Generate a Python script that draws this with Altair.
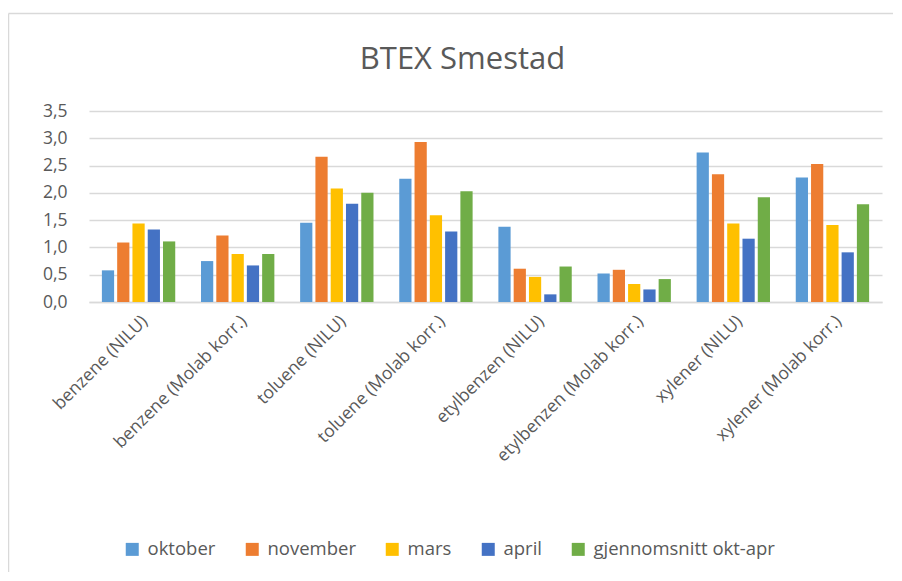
import altair as alt
import pandas as pd

categories = [
    "benzene (NILU)", "benzene (Molab korr.)", "toluene (NILU)", "toluene (Molab korr.)",
    "etylbenzen (NILU)", "etylbenzen (Molab korr.)", "xylener (NILU)", "xylener (Molab korr.)",
]
series = ["oktober", "november", "mars", "april", "gjennomsnitt okt-apr"]
oktober = [0.58, 0.75, 1.45, 2.26, 1.38, 0.52, 2.74, 2.28]
november = [1.09, 1.22, 2.66, 2.93, 0.61, 0.59, 2.34, 2.53]
mars = [1.44, 0.88, 2.08, 1.59, 0.46, 0.33, 1.44, 1.41]
april = [1.33, 0.67, 1.80, 1.29, 0.14, 0.23, 1.16, 0.91]
snitt = [1.11, 0.88, 2.00, 2.03, 0.65, 0.42, 1.92, 1.79]
colors = ["#5B9BD5", "#ED7D31", "#FFC000", "#4472C4", "#70AD47"]
y_ticks = [0, 0.5, 1.0, 1.5, 2.0, 2.5, 3.0, 3.5]

rows = []
for s, vals in zip(series, [oktober, november, mars, april, snitt]):
    for c, v in zip(categories, vals):
        rows.append({"kategori": c, "serie": s, "verdi": v})
df = pd.DataFrame(rows)

TXT = "#595959"

bars = alt.Chart(df).mark_bar().encode(
    x=alt.X("kategori:N", sort=categories,
            scale=alt.Scale(paddingInner=0.26, paddingOuter=0.13),
            axis=alt.Axis(title=None, labelAngle=315, labelFontSize=17.5, labelColor=TXT,
                          labelPadding=10, ticks=False, domainColor="#d9d9d9",
                          domainWidth=1.3, labelLimit=400)),
    xOffset=alt.XOffset("serie:N", sort=series, scale=alt.Scale(paddingInner=0.2)),
    y=alt.Y("verdi:Q", scale=alt.Scale(domain=[0, 3.5]),
            axis=alt.Axis(title=None, values=y_ticks, domain=False, ticks=False,
                          labelExpr="replace(format(datum.value, '.1f'), '.', ',')",
                          labelFontSize=17.5, labelColor=TXT, labelPadding=22,
                          gridColor="#d9d9d9", gridWidth=1.3)),
    color=alt.Color("serie:N", sort=series,
                    scale=alt.Scale(domain=series, range=colors),
                    legend=alt.Legend(title=None, orient="none", direction="horizontal",
                                      legendX=34, legendY=429, symbolType="square",
                                      symbolSize=169, symbolStrokeWidth=0,
                                      labelFontSize=18.5, labelColor=TXT, labelOffset=6,
                                      columnPadding=27, labelLimit=400)),
)

frame_src = pd.DataFrame({"a": [0]})
top_line = alt.Chart(frame_src).mark_rule(stroke="#d9d9d9", strokeWidth=1.5).encode(
    x=alt.value(-80.5), x2=alt.value(950), y=alt.value(-97.5))
left_line = alt.Chart(frame_src).mark_rule(stroke="#d9d9d9", strokeWidth=1.5).encode(
    x=alt.value(-80.5), y=alt.value(-97.5), y2=alt.value(700))

chart = alt.layer(top_line, left_line, bars).properties(
    width=793, height=191,
    title=alt.TitleParams("BTEX Smestad", fontSize=31, color=TXT, fontWeight="normal",
                          anchor="middle", dx=-23, offset=-87.5, baseline="alphabetic"),
    autosize=alt.AutoSizeParams(type="none"),
    padding={"left": 81, "top": 103, "right": 11, "bottom": 270},
).configure(font="Open Sans").configure_view(stroke=None)

chart.save("out.html", embed_options={"renderer": "svg", "actions": False})
